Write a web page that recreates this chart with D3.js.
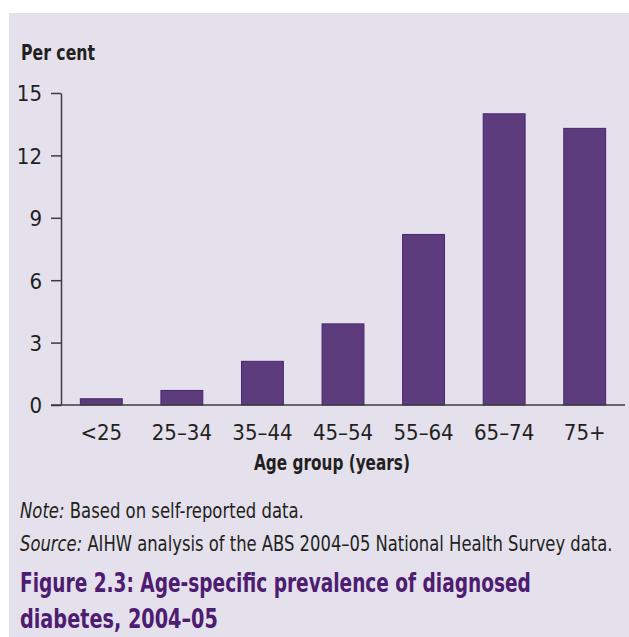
<!DOCTYPE html>
<html>
<head>
<meta charset="utf-8">
<script src="https://cdn.jsdelivr.net/npm/d3@7"></script>
<style>
  body { margin: 0; background: #fff; }
  text { font-family: "Liberation Sans Narrow", "DejaVu Sans Condensed", "Roboto", sans-serif; fill: #231f20; }
</style>
</head>
<body>
<svg id="chart"></svg>
<script>
// ─── data ──────────────────────────────────────────────────────────
const ageGroups  = ["<25", "25–34", "35–44", "45–54", "55–64", "65–74", "75+"];
const prevalence = [0.3, 0.7, 2.1, 3.9, 8.2, 14.0, 13.3];
const yTicks     = [0, 3, 6, 9, 12, 15];

// ─── layout ────────────────────────────────────────────────────────
const W = 629, H = 637;
const plot = { left: 61, right: 625, top: 93, bottom: 405 };
const purple = "#5c3c7d";
const titleColor = "#4e1c70";

const svg = d3.select("#chart").attr("width", W).attr("height", H);

// panel background
svg.append("rect")
  .attr("x", 9).attr("y", 13)
  .attr("width", W - 9).attr("height", H - 13)
  .attr("fill", "#e4e1ed");

// place a text at (x,y) and squeeze it horizontally to width w
function placeFit(sel, px, py, w) {
  const natural = sel.node().getComputedTextLength();
  const sx = Math.min(1.15, w / natural);
  sel.attr("x", 0).attr("y", 0)
     .attr("transform", `translate(${px},${py}) scale(${sx},1)`);
}

// ─── scales ────────────────────────────────────────────────────────
const x = d3.scaleBand()
  .domain(ageGroups)
  .range([plot.left, plot.right])
  .paddingInner(0.48)
  .paddingOuter(0.24);

const y = d3.scaleLinear()
  .domain([0, 15])
  .range([plot.bottom, plot.top]);

// ─── bars ──────────────────────────────────────────────────────────
svg.append("g")
  .selectAll("rect")
  .data(ageGroups.map((g, i) => ({ g, v: prevalence[i] })))
  .join("rect")
    .attr("x", d => x(d.g))
    .attr("y", d => y(d.v))
    .attr("width", x.bandwidth())
    .attr("height", d => y(0) - y(d.v))
    .attr("fill", purple)
    .attr("stroke", "#4a2470")
    .attr("stroke-width", 1);

// ─── y axis ────────────────────────────────────────────────────────
const yAxis = svg.append("g")
  .attr("transform", `translate(${plot.left},0)`)
  .call(d3.axisLeft(y).tickValues(yTicks).tickSize(10).tickPadding(9).tickSizeOuter(0));
yAxis.select(".domain").attr("stroke", "#3d3d3d").attr("stroke-width", 1.5);
yAxis.selectAll(".tick line").attr("stroke", "#3d3d3d").attr("stroke-width", 1.5);
yAxis.selectAll(".tick text")
  .attr("font-size", 22)
  .attr("fill", "#231f20")
  .attr("dy", "0.36em");

// ─── x axis ────────────────────────────────────────────────────────
const xAxis = svg.append("g")
  .attr("transform", `translate(0,${plot.bottom})`)
  .call(d3.axisBottom(x).tickSize(0).tickPadding(19).tickSizeOuter(0));
xAxis.select(".domain").attr("stroke", "#3d3d3d").attr("stroke-width", 1.5)
  .attr("d", `M${plot.left - 10},0H${plot.right}`);
xAxis.selectAll(".tick text")
  .attr("font-size", 22)
  .attr("fill", "#231f20");

// ─── labels ────────────────────────────────────────────────────────
svg.append("text")
  .attr("font-size", 22).attr("font-weight", "bold")
  .text("Per cent")
  .call(placeFit, 21, 60, 74);

svg.append("text")
  .attr("font-size", 22).attr("font-weight", "bold")
  .text("Age group (years)")
  .call(placeFit, 254, 470, 156);

const note = svg.append("text").attr("font-size", 22);
note.append("tspan").attr("font-style", "italic").text("Note:");
note.append("tspan").text(" Based on self-reported data.");
note.call(placeFit, 20, 518, 284);

const src = svg.append("text").attr("font-size", 22);
src.append("tspan").attr("font-style", "italic").text("Source:");
src.append("tspan").text(" AIHW analysis of the ABS 2004–05 National Health Survey data.");
src.call(placeFit, 20, 551, 593);

svg.append("text")
  .attr("font-size", 26).attr("font-weight", "bold")
  .style("fill", titleColor)
  .text("Figure 2.3: Age-specific prevalence of diagnosed")
  .call(placeFit, 20, 592, 511);

svg.append("text")
  .attr("font-size", 26).attr("font-weight", "bold")
  .style("fill", titleColor)
  .text("diabetes, 2004–05")
  .call(placeFit, 20, 628, 198);
</script>
</body>
</html>
